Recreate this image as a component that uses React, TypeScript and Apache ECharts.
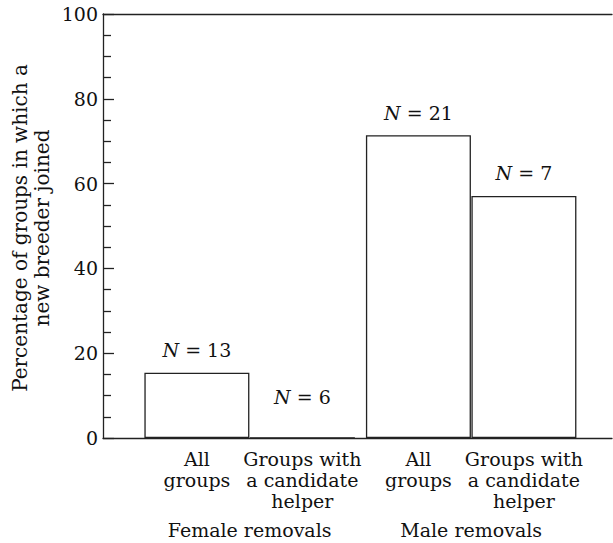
import React, { useEffect, useRef } from "react";
import * as echarts from "echarts";

const categories = [
  "All\ngroups",
  "Groups with\na candidate\nhelper",
  "All\ngroups",
  "Groups with\na candidate\nhelper",
];
const positions = [1, 2, 3.1, 4.1];
const percentages = [15.4, 0, 71.4, 57.1];
const sampleSizes = [13, 6, 21, 7];
const groupNames = ["Female removals", "Male removals"];
const groupPositions = [1.5, 3.6];
const yTickMin = 0;
const yTickMax = 100;
const yTickStep = 20;
const yTitle = "Percentage of groups in which a\nnew breeder joined";

const FONT = "DejaVu Serif";
const INK = "#222";
const FS = 19;

export default function App() {
  const ref = useRef<HTMLDivElement>(null);
  useEffect(() => {
    if (!ref.current) return;
    const chart = echarts.init(ref.current, undefined, { renderer: "svg" });
    const xMin = 0.11;
    const xMax = 4.935;
    const baseX = {
      type: "value",
      min: xMin,
      max: xMax,
      splitLine: { show: false },
      axisTick: { show: false },
    };
    chart.setOption({
      animation: false,
      backgroundColor: "#fff",
      textStyle: { fontFamily: FONT },
      grid: { left: 103, right: 1, top: 14, bottom: 105, containLabel: false, outerBoundsMode: "none" },
      xAxis: [
        {
          ...baseX,
          position: "bottom",
          axisLine: { show: true, onZero: false, lineStyle: { color: INK, width: 1.3 } },
          axisLabel: {
            show: true,
            customValues: positions,
            formatter: (v: number) => {
              const i = positions.findIndex((p) => Math.abs(p - v) < 1e-6);
              return i >= 0 ? categories[i] : "";
            },
            fontFamily: FONT,
            fontSize: FS,
            lineHeight: 21,
            color: "#111",
            margin: 10,
            align: "center",
          },
        },
        {
          ...baseX,
          position: "bottom",
          offset: 70,
          axisLine: { show: false },
          axisLabel: {
            show: true,
            customValues: groupPositions,
            formatter: (v: number) => {
              const i = groupPositions.findIndex((p) => Math.abs(p - v) < 1e-6);
              return i >= 0 ? groupNames[i] : "";
            },
            fontFamily: FONT,
            fontSize: FS,
            lineHeight: 22,
            color: "#111",
            margin: 11,
          },
        },
        {
          ...baseX,
          position: "top",
          axisLine: { show: true, onZero: false, lineStyle: { color: INK, width: 1.3 } },
          axisLabel: { show: false },
        },
      ],
      yAxis: {
        type: "value",
        min: yTickMin,
        max: yTickMax,
        interval: yTickStep,
        splitLine: { show: false },
        axisLine: { show: true, lineStyle: { color: INK, width: 1.3 } },
        axisTick: { show: true, inside: true, length: 11, lineStyle: { color: INK, width: 1.3 } },
        minorTick: { show: true, splitNumber: 4, length: 8, lineStyle: { color: INK, width: 1.3 } },
        axisLabel: { fontFamily: FONT, fontSize: FS, color: "#111", margin: 5 },
      },
      series: [
        {
          type: "bar",
          xAxisIndex: 0,
          barWidth: 105,
          itemStyle: { color: "#fff", borderColor: INK, borderWidth: 1.3 },
          label: {
            show: true,
            position: "top",
            distance: 13,
            fontFamily: FONT,
            fontSize: FS,
            color: "#111",
            formatter: (p: any) => `{i|N} = ${sampleSizes[p.dataIndex]}`,
            rich: { i: { fontStyle: "italic", fontFamily: FONT, fontSize: FS, color: "#111" } },
          },
          data: positions.map((x, i) => ({
            value: [x, percentages[i]],
            label: percentages[i] === 0 ? { distance: 31 } : undefined,
          })),
        },
      ],
      graphic: [
        {
          type: "text",
          x: 31,
          y: 228,
          rotation: Math.PI / 2,
          style: {
            text: yTitle,
            fontFamily: FONT,
            fontSize: 20,
            lineHeight: 22,
            fill: "#111",
            align: "center",
            verticalAlign: "middle",
          },
        },
      ],
    });
    return () => chart.dispose();
  }, []);
  return (
    <div
      ref={ref}
      style={{ position: "fixed", left: 0, top: 0, width: 613, height: 543 }}
    />
  );
}
